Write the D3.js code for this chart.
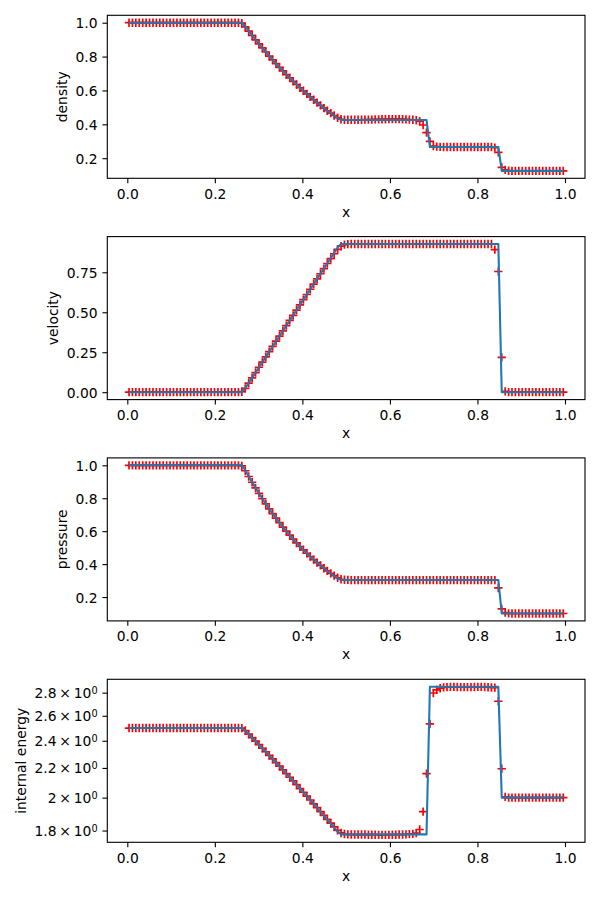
<!DOCTYPE html>
<html>
<head>
<meta charset="utf-8">
<script src="https://cdn.jsdelivr.net/npm/d3@7"></script>
<style>
  html, body { margin: 0; padding: 0; background: #fff; }
  svg { display: block; font-family: "DejaVu Sans", sans-serif; }
</style>
</head>
<body>
<script>
// cell centres of the numerical run
const xs = [
  0.0039, 0.0117, 0.0195, 0.0273, 0.0352, 0.0430, 0.0508, 0.0586, 0.0664, 0.0742,
  0.0820, 0.0898, 0.0977, 0.1055, 0.1133, 0.1211, 0.1289, 0.1367, 0.1445, 0.1523,
  0.1602, 0.1680, 0.1758, 0.1836, 0.1914, 0.1992, 0.2070, 0.2148, 0.2227, 0.2305,
  0.2383, 0.2461, 0.2539, 0.2617, 0.2695, 0.2773, 0.2852, 0.2930, 0.3008, 0.3086,
  0.3164, 0.3242, 0.3320, 0.3398, 0.3477, 0.3555, 0.3633, 0.3711, 0.3789, 0.3867,
  0.3945, 0.4023, 0.4102, 0.4180, 0.4258, 0.4336, 0.4414, 0.4492, 0.4570, 0.4648,
  0.4727, 0.4805, 0.4883, 0.4961, 0.5039, 0.5117, 0.5195, 0.5273, 0.5352, 0.5430,
  0.5508, 0.5586, 0.5664, 0.5742, 0.5820, 0.5898, 0.5977, 0.6055, 0.6133, 0.6211,
  0.6289, 0.6367, 0.6445, 0.6523, 0.6602, 0.6680, 0.6758, 0.6836, 0.6914, 0.6992,
  0.7070, 0.7148, 0.7227, 0.7305, 0.7383, 0.7461, 0.7539, 0.7617, 0.7695, 0.7773,
  0.7852, 0.7930, 0.8008, 0.8086, 0.8164, 0.8242, 0.8320, 0.8398, 0.8477, 0.8555,
  0.8633, 0.8711, 0.8789, 0.8867, 0.8945, 0.9023, 0.9102, 0.9180, 0.9258, 0.9336,
  0.9414, 0.9492, 0.9570, 0.9648, 0.9727, 0.9805, 0.9883, 0.9961
];

// numerical solution (red +)
const density = [
  1, 1, 1, 1, 1, 1, 1, 1, 1, 1,
  1, 1, 1, 1, 1, 1, 1, 1, 1, 1,
  1, 1, 1, 1, 1, 1, 1, 1, 1, 1,
  1, 1, 1, 0.997, 0.975, 0.950, 0.925, 0.899, 0.875, 0.851,
  0.827, 0.803, 0.781, 0.758, 0.736, 0.715, 0.694, 0.674, 0.654, 0.635,
  0.616, 0.598, 0.580, 0.562, 0.545, 0.528, 0.512, 0.496, 0.480, 0.466,
  0.452, 0.439, 0.430, 0.427, 0.427, 0.427, 0.427, 0.427, 0.427, 0.428,
  0.428, 0.428, 0.429, 0.429, 0.430, 0.430, 0.431, 0.431, 0.431, 0.431,
  0.430, 0.429, 0.428, 0.427, 0.424, 0.419, 0.396, 0.351, 0.299, 0.271,
  0.268, 0.267, 0.266, 0.266, 0.266, 0.266, 0.266, 0.266, 0.266, 0.266,
  0.266, 0.266, 0.266, 0.266, 0.266, 0.266, 0.266, 0.262, 0.234, 0.146,
  0.131, 0.126, 0.125, 0.125, 0.125, 0.125, 0.125, 0.125, 0.125, 0.125,
  0.125, 0.125, 0.125, 0.125, 0.125, 0.125, 0.125, 0.125
];
const velocity = [
  0, 0, 0, 0, 0, 0, 0, 0, 0, 0,
  0, 0, 0, 0, 0, 0, 0, 0, 0, 0,
  0, 0, 0, 0, 0, 0, 0, 0, 0, 0,
  0, 0, 0, 0.003, 0.024, 0.057, 0.090, 0.123, 0.156, 0.188,
  0.221, 0.254, 0.286, 0.319, 0.351, 0.384, 0.416, 0.449, 0.481, 0.514,
  0.546, 0.579, 0.611, 0.644, 0.676, 0.709, 0.741, 0.773, 0.805, 0.836,
  0.866, 0.893, 0.913, 0.923, 0.926, 0.927, 0.927, 0.927, 0.927, 0.927,
  0.927, 0.927, 0.927, 0.927, 0.927, 0.927, 0.927, 0.927, 0.927, 0.927,
  0.927, 0.927, 0.927, 0.927, 0.927, 0.927, 0.927, 0.927, 0.927, 0.927,
  0.927, 0.927, 0.927, 0.927, 0.927, 0.927, 0.927, 0.927, 0.927, 0.927,
  0.927, 0.927, 0.927, 0.927, 0.927, 0.927, 0.927, 0.892, 0.755, 0.218,
  0.005, 0, 0, 0, 0, 0, 0, 0, 0, 0,
  0, 0, 0, 0, 0, 0, 0, 0
];
const pressure = [
  1, 1, 1, 1, 1, 1, 1, 1, 1, 1,
  1, 1, 1, 1, 1, 1, 1, 1, 1, 1,
  1, 1, 1, 1, 1, 1, 1, 1, 1, 1,
  1, 1, 1, 0.996, 0.967, 0.932, 0.897, 0.863, 0.830, 0.797,
  0.766, 0.736, 0.707, 0.679, 0.652, 0.625, 0.600, 0.576, 0.552, 0.529,
  0.507, 0.486, 0.466, 0.446, 0.427, 0.409, 0.392, 0.375, 0.359, 0.344,
  0.330, 0.317, 0.308, 0.305, 0.304, 0.303, 0.303, 0.303, 0.303, 0.303,
  0.303, 0.303, 0.303, 0.303, 0.303, 0.303, 0.303, 0.303, 0.303, 0.303,
  0.303, 0.303, 0.303, 0.303, 0.303, 0.303, 0.303, 0.303, 0.303, 0.303,
  0.303, 0.303, 0.303, 0.303, 0.303, 0.303, 0.303, 0.303, 0.303, 0.303,
  0.303, 0.303, 0.303, 0.303, 0.303, 0.303, 0.303, 0.303, 0.255, 0.128,
  0.105, 0.101, 0.1, 0.1, 0.1, 0.1, 0.1, 0.1, 0.1, 0.1,
  0.1, 0.1, 0.1, 0.1, 0.1, 0.1, 0.1, 0.1
];
const energy = [
  2.5, 2.5, 2.5, 2.5, 2.5, 2.5, 2.5, 2.5, 2.5, 2.5,
  2.5, 2.5, 2.5, 2.5, 2.5, 2.5, 2.5, 2.5, 2.5, 2.5,
  2.5, 2.5, 2.5, 2.5, 2.5, 2.5, 2.5, 2.5, 2.5, 2.5,
  2.5, 2.5, 2.5, 2.499, 2.480, 2.452, 2.424, 2.397, 2.370, 2.343,
  2.317, 2.290, 2.264, 2.238, 2.212, 2.186, 2.160, 2.135, 2.110, 2.085,
  2.059, 2.035, 2.010, 1.985, 1.961, 1.937, 1.913, 1.889, 1.866, 1.843,
  1.821, 1.801, 1.786, 1.780, 1.778, 1.777, 1.777, 1.777, 1.777, 1.777,
  1.776, 1.776, 1.776, 1.775, 1.775, 1.775, 1.775, 1.776, 1.776, 1.777,
  1.777, 1.778, 1.779, 1.781, 1.785, 1.806, 1.912, 2.160, 2.533, 2.797,
  2.825, 2.840, 2.848, 2.850, 2.852, 2.852, 2.851, 2.850, 2.850, 2.850,
  2.850, 2.851, 2.852, 2.852, 2.851, 2.849, 2.847, 2.845, 2.724, 2.194,
  2.005, 2.0, 2.0, 2.0, 2.0, 2.0, 2.0, 2.0, 2.0, 2.0,
  2.0, 2.0, 2.0, 2.0, 2.0, 2.0, 2.0, 2.0
];

// exact solution (blue line), sampled at the corners
const lineX = [
  0.0039, 0.2617, 0.2695, 0.2773, 0.2852, 0.2930, 0.3008, 0.3086, 0.3164, 0.3242,
  0.3320, 0.3398, 0.3477, 0.3555, 0.3633, 0.3711, 0.3789, 0.3867, 0.3945, 0.4023,
  0.4102, 0.4180, 0.4258, 0.4336, 0.4414, 0.4492, 0.4570, 0.4648, 0.4727, 0.4805,
  0.4883, 0.6836, 0.6914, 0.8477, 0.8555, 0.9961
];
const lineDensity = [
  1, 1, 0.978, 0.952, 0.926, 0.900, 0.875, 0.851, 0.827, 0.803,
  0.781, 0.758, 0.736, 0.715, 0.694, 0.674, 0.654, 0.635, 0.616, 0.598,
  0.580, 0.562, 0.545, 0.528, 0.512, 0.496, 0.480, 0.465, 0.451, 0.436,
  0.426, 0.426, 0.266, 0.266, 0.125, 0.125
];
const lineVelocity = [
  0, 0, 0.026, 0.058, 0.091, 0.123, 0.156, 0.189, 0.221, 0.254,
  0.286, 0.319, 0.351, 0.384, 0.416, 0.449, 0.481, 0.514, 0.547, 0.579,
  0.612, 0.644, 0.677, 0.709, 0.742, 0.774, 0.807, 0.839, 0.872, 0.905,
  0.927, 0.927, 0.927, 0.927, 0, 0
];
const linePressure = [
  1, 1, 0.970, 0.933, 0.898, 0.863, 0.830, 0.797, 0.766, 0.736,
  0.707, 0.679, 0.652, 0.625, 0.600, 0.576, 0.552, 0.529, 0.507, 0.486,
  0.466, 0.446, 0.427, 0.409, 0.392, 0.375, 0.358, 0.343, 0.328, 0.313,
  0.303, 0.303, 0.303, 0.303, 0.1, 0.1
];
const lineEnergy = [
  2.5, 2.5, 2.478, 2.451, 2.424, 2.397, 2.370, 2.343, 2.317, 2.290,
  2.264, 2.238, 2.212, 2.186, 2.160, 2.135, 2.110, 2.085, 2.059, 2.035,
  2.010, 1.985, 1.961, 1.937, 1.912, 1.888, 1.865, 1.841, 1.817, 1.794,
  1.778, 1.778, 2.854, 2.854, 2.0, 2.0
];

// ticks
const xTicks = [0, 0.2, 0.4, 0.6, 0.8, 1.0];
const densityTicks = [0.2, 0.4, 0.6, 0.8, 1.0];
const velocityTicks = [0, 0.25, 0.5, 0.75];
const pressureTicks = [0.2, 0.4, 0.6, 0.8, 1.0];
const energyTicks = [1.8, 2, 2.2, 2.4, 2.6, 2.8];
const energyTickMantissa = ["1.8", "2", "2.2", "2.4", "2.6", "2.8"];

const width = 600, height = 900;
const axLeft = 107.3, axRight = 585;
const panelTops = [15.3, 236.6, 457.9, 679.3];
const panelH = 163;
const fs = 13.89;         // 10pt at 100 dpi
const tickLen = 4.86;     // 3.5pt
const lw = 1.11;          // 0.8pt

const svg = d3.select("body").append("svg").attr("width", width).attr("height", height);

// matplotlib-style 5% margins
const padLin = ([a, b]) => [a - (b - a) * 0.05, b + (b - a) * 0.05];
const padLog = ([a, b]) => {
  const la = Math.log10(a), lb = Math.log10(b), m = (lb - la) * 0.05;
  return [Math.pow(10, la - m), Math.pow(10, lb + m)];
};

const x = d3.scaleLinear()
  .domain(padLin(d3.extent(xs.concat(lineX))))
  .range([axLeft, axRight]);

const panels = [
  { label: "density", vals: density, line: lineDensity, ticks: densityTicks, fmt: d3.format(".1f") },
  { label: "velocity", vals: velocity, line: lineVelocity, ticks: velocityTicks, fmt: d3.format(".2f") },
  { label: "pressure", vals: pressure, line: linePressure, ticks: pressureTicks, fmt: d3.format(".1f") },
  { label: "internal energy", vals: energy, line: lineEnergy, ticks: energyTicks, log: true },
];

const plus = `M${-4.17},0H4.17M0,${-4.17}V4.17`;

panels.forEach((p, k) => {
  const top = panelTops[k], bottom = top + panelH;
  const ext = d3.extent(p.vals.concat(p.line));
  const y = (p.log ? d3.scaleLog().domain(padLog(ext)) : d3.scaleLinear().domain(padLin(ext)))
    .range([bottom, top]);

  const g = svg.append("g");

  // clip to axes
  const clipId = `clip${k}`;
  g.append("clipPath").attr("id", clipId)
    .append("rect").attr("x", axLeft).attr("y", top).attr("width", axRight - axLeft).attr("height", panelH);

  const plot = g.append("g").attr("clip-path", `url(#${clipId})`);

  // red + markers
  plot.selectAll(".pt")
    .data(xs.map((v, i) => [v, p.vals[i]]))
    .enter()
    .append("path")
    .attr("class", "pt")
    .attr("d", plus)
    .attr("transform", (d) => `translate(${x(d[0])},${y(d[1])})`)
    .attr("fill", "none")
    .attr("stroke", "#ff0000")
    .attr("stroke-width", 1.7);

  // blue exact line
  plot.append("path")
    .datum(lineX.map((v, i) => [v, p.line[i]]))
    .attr("fill", "none")
    .attr("stroke", "#1f77b4")
    .attr("stroke-width", 2.08)
    .attr("stroke-linejoin", "round")
    .attr("d", d3.line().x((d) => x(d[0])).y((d) => y(d[1])));

  // x axis
  const gx = g.append("g")
    .attr("transform", `translate(0,${bottom})`)
    .call(d3.axisBottom(x).tickValues(xTicks).tickFormat(d3.format(".1f"))
      .tickSize(tickLen).tickPadding(tickLen));
  gx.select(".domain").remove();
  gx.selectAll(".tick line").attr("stroke", "#000").attr("stroke-width", lw);
  gx.selectAll(".tick text")
    .attr("fill", "#000").attr("font-size", fs).attr("font-family", "DejaVu Sans")
    .attr("dy", "0.78em");

  // y axis
  const ay = d3.axisLeft(y).tickValues(p.ticks).tickSize(tickLen).tickPadding(tickLen);
  if (!p.log) ay.tickFormat(p.fmt);
  else ay.tickFormat(() => "");
  const gy = g.append("g").attr("transform", `translate(${axLeft},0)`).call(ay);
  gy.select(".domain").remove();
  gy.selectAll(".tick line").attr("stroke", "#000").attr("stroke-width", lw);
  const yt = gy.selectAll(".tick text")
    .attr("fill", "#000").attr("font-size", fs).attr("font-family", "DejaVu Sans")
    .attr("dy", "0.36em");
  if (p.log) {
    yt.each(function (d, i) {
      const t = d3.select(this);
      t.text(null);
      t.append("tspan").text(`${energyTickMantissa[i]}\u2009×\u200910`);
      t.append("tspan").attr("dy", "-0.45em").attr("font-size", fs * 0.7).text("0");
    });
  }

  // y label, placed left of the widest tick label
  let minX = Infinity;
  gy.selectAll(".tick text").each(function () {
    const b = this.getBBox();
    minX = Math.min(minX, axLeft + b.x);
  });
  svg.append("text")
    .attr("transform", `translate(${minX - 5.6 - 3.3},${top + panelH / 2}) rotate(-90)`)
    .attr("text-anchor", "middle")
    .attr("font-size", fs)
    .attr("fill", "#000")
    .text(p.label);

  // x label
  svg.append("text")
    .attr("x", (axLeft + axRight) / 2)
    .attr("y", bottom + 38.5)
    .attr("text-anchor", "middle")
    .attr("font-size", fs)
    .attr("fill", "#000")
    .text("x");

  // frame
  g.append("rect")
    .attr("x", axLeft).attr("y", top)
    .attr("width", axRight - axLeft).attr("height", panelH)
    .attr("fill", "none").attr("stroke", "#000").attr("stroke-width", lw);
});
</script>
</body>
</html>
